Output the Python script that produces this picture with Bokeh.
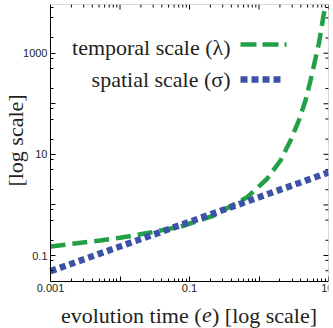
import numpy as np
from bokeh.plotting import figure
from bokeh.models import (Range1d, FixedTicker, CustomJSTickFormatter, Label, Arrow,
                          BoxAnnotation)
from bokeh.embed import file_html
from bokeh.resources import INLINE

# ---------------- data ----------------
evolution_time_temporal = [0.001, 0.0052, 0.01, 0.0275, 0.075, 0.224, 0.676, 1.31,
                           2.04, 2.84, 3.74, 4.67, 5.51, 7.26, 9.06, 10.0]
temporal_scale = [0.151, 0.198, 0.224, 0.285, 0.374, 0.618, 1.42, 3.29,
                  7.55, 18.8, 46.7, 116, 289, 1535, 9480, 24000]

evolution_time_spatial = [0.001, 0.01, 0.1, 1.0, 10.0]
spatial_scale = [0.049, 0.151, 0.463, 1.42, 4.38]

x_major_ticks = [0.001, 0.01, 0.1, 1, 10]
x_tick_labels = ["0.001", "", "0.1", "", "10"]
y_major_ticks = [0.1, 1, 10, 100, 1000]
y_tick_labels = ["0.1", "", "10", "", "1000"]

legend_labels = ["temporal scale (λ)", "spatial scale (σ)"]
x_axis_title = ["evolution time (", "e", ") [log scale]"]   # middle part in italics
y_axis_title = "[log scale]"

# ---------------- styles / geometry ----------------
GREEN = "#22a045"
BLUE = "#3b52a6"
TXT = "#231f20"
SERIF = "Liberation Serif"
SANS = "Liberation Sans"

W, H = 333, 328
BOX_L, BOX_B = 50, 47           # box left edge (px from left), box bottom (px from bottom)
PX_DEC_X, PX_DEC_Y = 69.5, 50.575
X_LO, X_HI = 1e-3, 10.0          # plot box x extent
Y_LO, Y_HI = 10 ** -1.514, 10 ** 3.963   # plot box y extent
MAJ_LEN, MIN_LEN = 5, 3

# the frame also covers the left/bottom margins so that titles can live in it
FX_LO = X_LO / 10 ** (BOX_L / PX_DEC_X)
FY_LO = Y_LO / 10 ** (BOX_B / PX_DEC_Y)

x_minor = [m * 10.0 ** k for k in range(-3, 1) for m in range(2, 10)]
y_minor = [m * 10.0 ** k for k in range(-2, 4) for m in (2, 5, 8)
           if Y_LO < m * 10.0 ** k < Y_HI]

p = figure(width=W, height=H, x_axis_type="log", y_axis_type="log",
           x_range=Range1d(FX_LO, X_HI), y_range=Range1d(FY_LO, Y_HI),
           output_backend="svg", toolbar_location=None,
           min_border_left=0, min_border_right=5, min_border_top=4, min_border_bottom=0)
p.xgrid.visible = False
p.ygrid.visible = False
p.background_fill_color = "white"
p.border_fill_color = "white"
p.outline_line_color = None


def make_fmt(ticks, labels):
    return CustomJSTickFormatter(args=dict(t=ticks, l=labels), code="""
        for (let i = 0; i < t.length; i++) {
            if (Math.abs(Math.log10(t[i]) - Math.log10(tick)) < 1e-6) return l[i];
        }
        return "";
    """)


def style_axis(ax, ticks, minor, labels):
    ax.ticker = FixedTicker(ticks=ticks, minor_ticks=minor)
    ax.formatter = make_fmt(ticks, labels)
    ax.axis_line_color = "black"
    ax.major_tick_line_color = "black"
    ax.minor_tick_line_color = "black"
    ax.major_tick_in = MAJ_LEN
    ax.major_tick_out = 0
    ax.minor_tick_in = MIN_LEN
    ax.minor_tick_out = 0
    ax.major_label_text_font = SANS
    ax.major_label_text_color = TXT
    ax.major_label_text_font_size = "11px"
    ax.major_label_standoff = 3


xa, ya = p.xaxis[0], p.yaxis[0]
style_axis(xa, x_major_ticks, x_minor, x_tick_labels)
style_axis(ya, y_major_ticks, y_minor, y_tick_labels)
xa.fixed_location = Y_LO
xa.bounds = (X_LO, X_HI)
ya.fixed_location = X_LO
ya.bounds = (Y_LO, Y_HI)

# plot box
p.add_layout(BoxAnnotation(left=X_LO, right=X_HI, bottom=Y_LO, top=Y_HI,
                           fill_alpha=0, line_color="black", line_width=1))

# inward tick marks on the top and right edges (mirroring the ticks)
top_x = x_major_ticks + x_minor
top_len = [MAJ_LEN] * len(x_major_ticks) + [MIN_LEN] * len(x_minor)
p.segment(x0=top_x, x1=top_x, y0=[Y_HI] * len(top_x),
          y1=[Y_HI / 10 ** (L / PX_DEC_Y) for L in top_len],
          line_color="black", line_width=1)
right_y = y_major_ticks + y_minor
right_len = [MAJ_LEN] * len(y_major_ticks) + [MIN_LEN] * len(y_minor)
p.segment(x0=[X_HI] * len(right_y), x1=[X_HI / 10 ** (L / PX_DEC_X) for L in right_len],
          y0=right_y, y1=right_y, line_color="black", line_width=1)

# ---------------- curves ----------------
p.line(evolution_time_temporal, temporal_scale, line_color=GREEN, line_width=4.5,
       line_dash="15 7")
p.line(evolution_time_spatial, spatial_scale, line_color=BLUE, line_width=6.5,
       line_dash="6 4")

# ---------------- legend (text left, sample right) ----------------
# screen units: x from the canvas left, y from the canvas bottom
for lab, ym in zip(legend_labels, [H - 46.5, H - 78.5]):
    p.add_layout(Label(x=230, y=ym, x_units="screen", y_units="screen", text=lab,
                       text_align="right", text_baseline="middle",
                       text_font=SERIF, text_font_size="22px", text_color=TXT))
p.add_layout(Arrow(end=None, x_start=240, y_start=H - 44, x_end=286, y_end=H - 44,
                   start_units="screen", end_units="screen",
                   line_color=GREEN, line_width=4.5, line_dash="16 6"))
p.add_layout(Arrow(end=None, x_start=240, y_start=H - 79, x_end=283, y_end=H - 79,
                   start_units="screen", end_units="screen",
                   line_color=BLUE, line_width=6.5, line_dash="7 4"))

# ---------------- axis titles ----------------
for txt, xx, align, style in zip(x_axis_title, [201, 201.5, 211.5],
                                 ["right", "left", "left"], ["normal", "italic", "normal"]):
    p.add_layout(Label(x=xx, y=H - 314.5, x_units="screen", y_units="screen", text=txt,
                       text_align=align, text_baseline="middle", text_font_style=style,
                       text_font=SERIF, text_font_size="22px", text_color=TXT))
p.add_layout(Label(x=15, y=H - 140, x_units="screen", y_units="screen", text=y_axis_title,
                   angle=90, angle_units="deg", text_align="center", text_baseline="middle",
                   text_font=SERIF, text_font_size="22px", text_color=TXT))

open("out.html", "w").write(file_html(p, INLINE))
